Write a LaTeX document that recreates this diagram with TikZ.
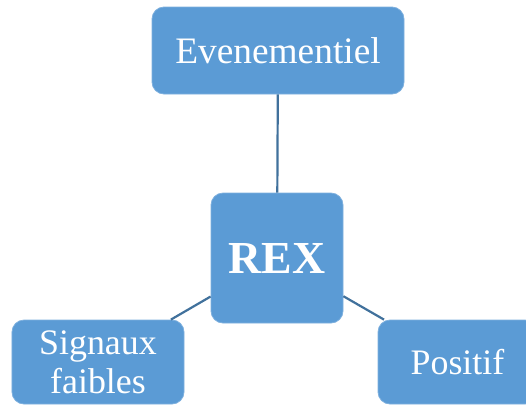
\documentclass[tikz,border=0pt]{standalone}
\usepackage{fontspec}
\setmainfont{Liberation Serif}
\usepackage{xcolor}
\definecolor{rex-blue}{HTML}{5B9BD5}
\definecolor{rex-edge}{HTML}{7EB0DE}
\definecolor{rex-line}{HTML}{41719C}
\usepackage{tikz}

\tikzset{
    rexbox/.style={rectangle, rounded corners=12bp, fill=rex-blue, draw=rex-edge,
        line width=0.8bp, text=white, align=center, inner sep=0pt},
    rexlink/.style={draw=rex-line, line width=2.2bp}
}

\begin{document}
\begin{tikzpicture}[x=1bp, y=-1bp]

    % Frame
    \useasboundingbox (0, 0) rectangle (526, 405);
    \clip (0, 0) rectangle (526, 405);

    % Boxes
    \node[rexbox, minimum width=252bp, minimum height=87bp,
        font=\fontsize{37.5}{42}\selectfont] (even) at (278, 50.5) {Evenementiel};
    \node[rexbox, minimum width=132bp, minimum height=130bp,
        font=\fontsize{46}{50}\selectfont\bfseries] (rex) at (277, 258) {REX};
    \node[rexbox, minimum width=172bp, minimum height=84bp,
        font=\fontsize{36}{39}\selectfont] (signaux) at (98, 362) {Signaux\\faibles};
    \node[rexbox, minimum width=159bp, minimum height=84bp,
        font=\fontsize{36}{39}\selectfont] (positif) at (457.5, 362) {Positif};

    % Links
    \draw[rexlink] (even) -- (rex);
    \draw[rexlink] (rex) -- (signaux);
    \draw[rexlink] (rex) -- (positif);

\end{tikzpicture}
\end{document}
